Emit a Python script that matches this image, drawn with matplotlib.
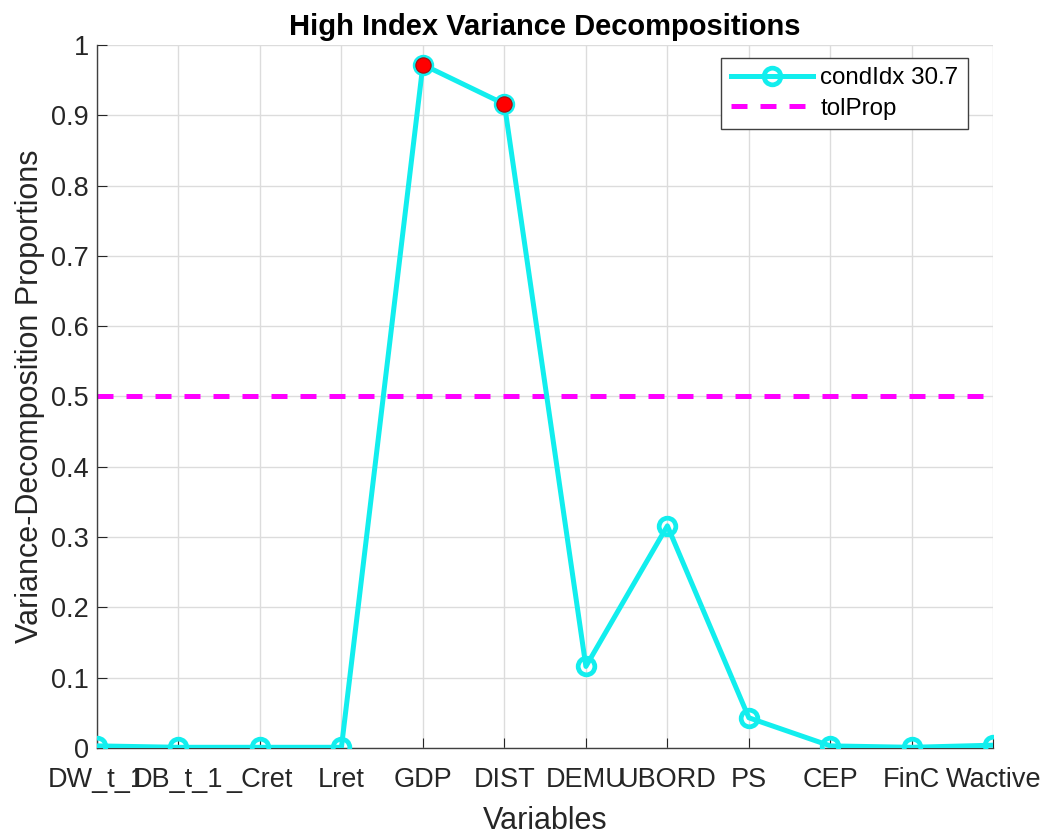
import matplotlib.pyplot as plt
import numpy as np

plt.rcParams['font.family'] = ['Liberation Sans', 'DejaVu Sans']

# data
variables = ['DW_t_1', 'DB_t_1', '_Cret', 'Lret', 'GDP', 'DIST',
             'DEMU', 'UBORD', 'PS', 'CEP', 'FinC', 'Wactive']
props = [0.003, 0.001, 0.001, 0.001, 0.972, 0.916,
         0.116, 0.316, 0.043, 0.003, 0.001, 0.004]
tol_prop = 0.5
cond_idx = 30.7

x = np.arange(1, len(variables) + 1)
props = np.array(props)
high = props > tol_prop

fig = plt.figure(figsize=(10.61, 8.38), dpi=100)
ax = fig.add_axes([0.0914, 0.1074, 0.8448, 0.8389])

cyan = '#12eeee'
ax.plot(x, props, '-o', color=cyan, lw=3.6, ms=12, mfc='none',
        mew=3.4, label='condIdx %.1f' % cond_idx, zorder=3)
ax.axhline(tol_prop, color='#ff00ff', ls=(0, (3.2, 2.6)), lw=3.6,
           label='tolProp', zorder=2)
ax.plot(x[high], props[high], 'o', color='red', ms=11, mec='#a01010',
        mew=0.8, zorder=4)

ax.set_xlim(1, 12)
ax.set_ylim(0, 1)
ax.set_xticks(x)
ax.set_xticklabels(variables)
ax.set_yticks(np.arange(0, 1.01, 0.1))
ax.set_yticklabels(['0', '0.1', '0.2', '0.3', '0.4', '0.5', '0.6', '0.7',
                    '0.8', '0.9', '1'])
ax.grid(True, color='#dcdcdc', lw=1)
ax.set_axisbelow(True)
for s in ['top', 'right']:
    ax.spines[s].set_visible(False)
for s in ['left', 'bottom']:
    ax.spines[s].set_color('#404040')
    ax.spines[s].set_linewidth(1)
ax.tick_params(direction='in', length=7, labelsize=19.5, colors='#262626')
ax.tick_params(axis='x', pad=14)
ax.tick_params(axis='y', pad=6)

ax.set_title('High Index Variance Decompositions', fontsize=21,
             fontweight='bold', pad=7)
ax.set_xlabel('Variables', fontsize=22, color='#262626', labelpad=9)
ax.set_ylabel('Variance-Decomposition Proportions', fontsize=22,
              color='#262626', labelpad=4)

leg = ax.legend(loc='upper right', bbox_to_anchor=(0.972, 0.982),
                borderaxespad=0, fontsize=17.4, handlelength=3.4,
                fancybox=False, framealpha=1, edgecolor='#404040',
                borderpad=0.4, labelspacing=0.35, handletextpad=0.3)
leg.get_frame().set_linewidth(1)

fig.savefig('out.png', dpi=100)
